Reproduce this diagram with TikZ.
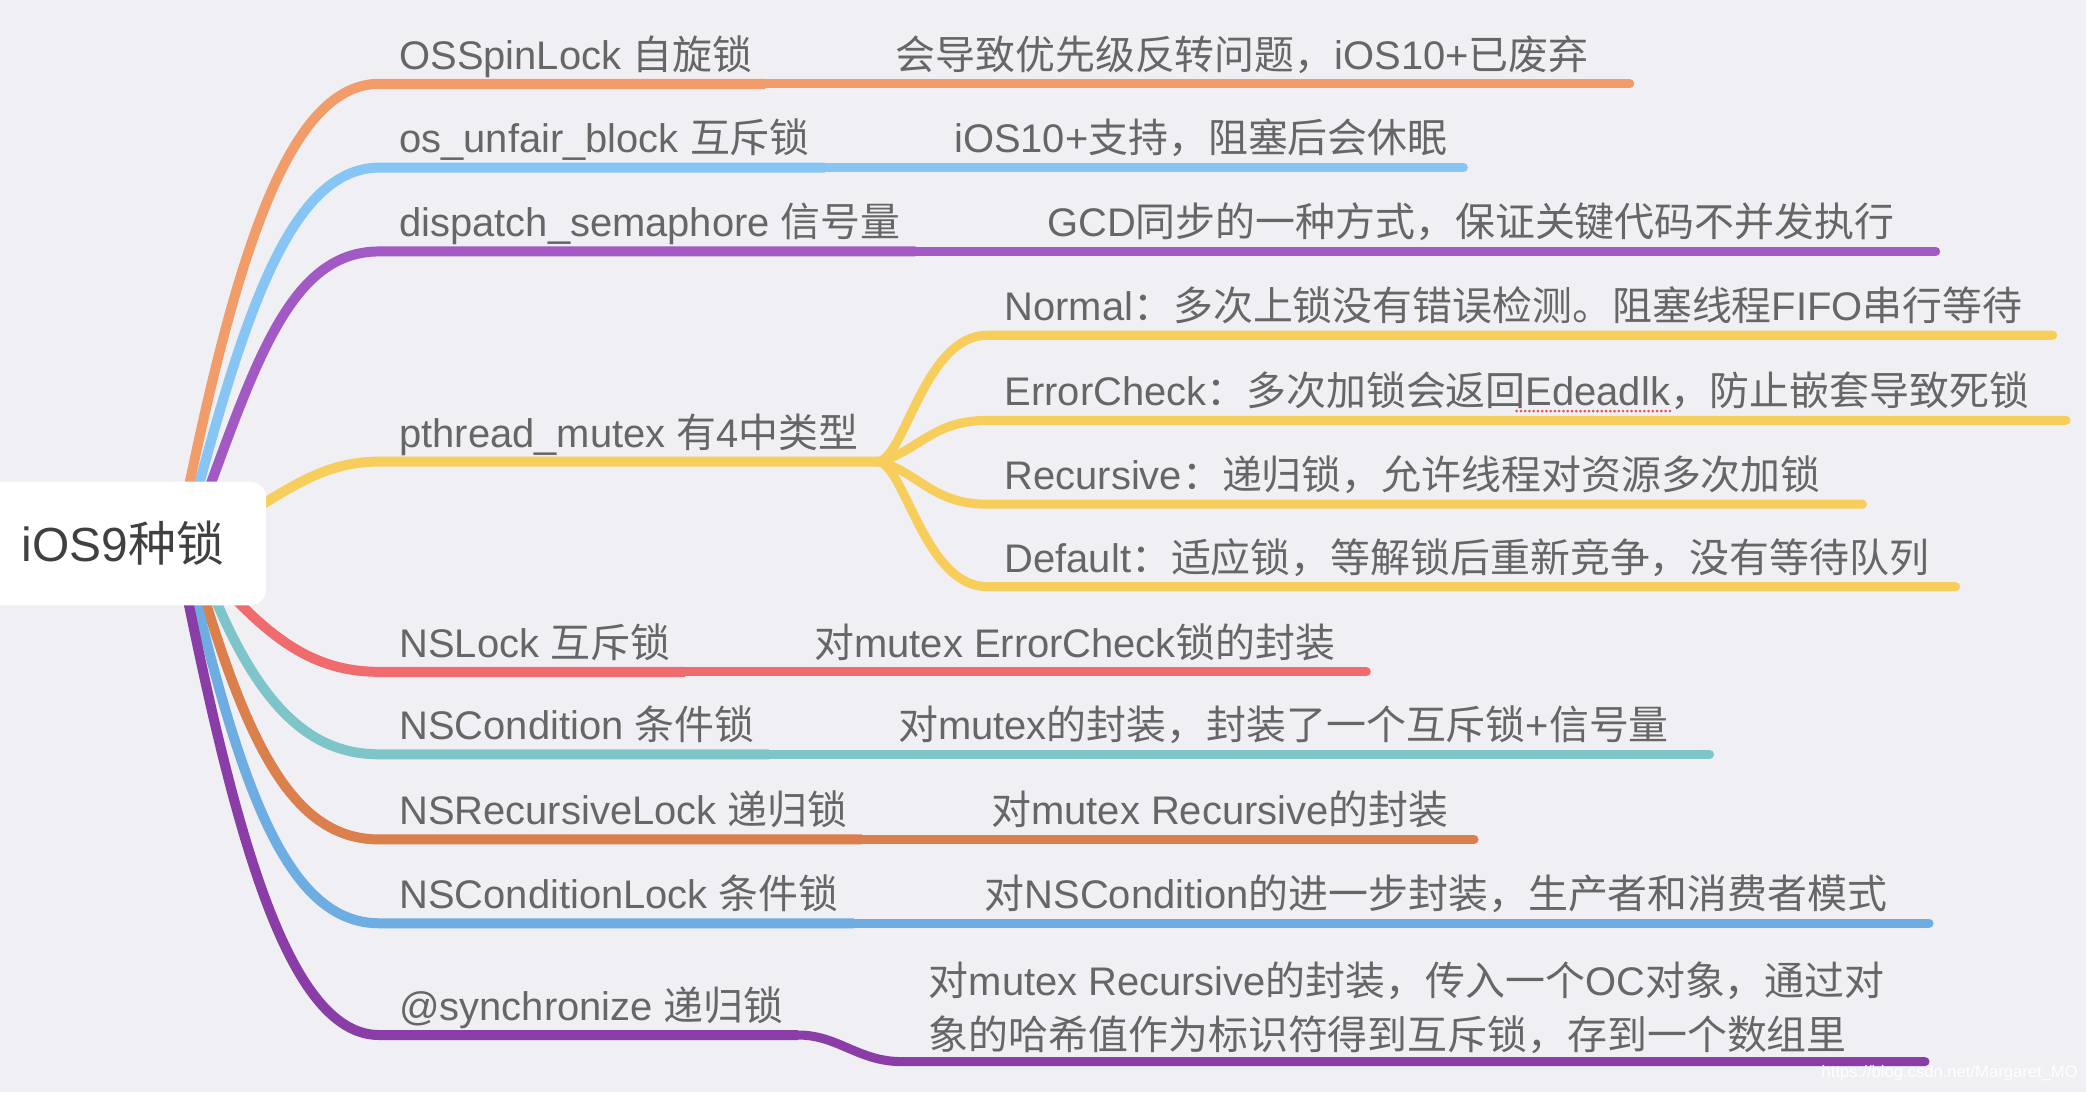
\documentclass[tikz,border=0pt]{standalone}
\usepackage{fontspec}
\setmainfont{Liberation Sans}
\newfontfamily\zhfont{Noto Sans CJK SC}
\newcommand\zh[1]{{\zhfont #1}}
\definecolor{bgc}{RGB}{239,239,244}
\definecolor{txt}{RGB}{102,102,102}
\definecolor{roottxt}{RGB}{64,64,64}
\definecolor{cA}{RGB}{242,157,105}
\definecolor{cB}{RGB}{135,197,245}
\definecolor{cC}{RGB}{162,89,196}
\definecolor{cD}{RGB}{247,206,91}
\definecolor{cE}{RGB}{239,107,110}
\definecolor{cF}{RGB}{126,197,201}
\definecolor{cG}{RGB}{219,128,77}
\definecolor{cH}{RGB}{109,173,226}
\definecolor{cI}{RGB}{138,61,166}
\definecolor{spell}{RGB}{232,80,80}
\begin{document}
\begin{tikzpicture}[x=1pt,y=-1pt,
  lbl/.style={anchor=base west, inner sep=0pt, text=txt, font=\fontsize{30}{41}\selectfont},
  branch/.style={line width=7.5pt, line cap=butt, line join=round},
  leaf/.style={line width=6.8pt, line cap=round, line join=round},
  rootbox/.style={fill=white, rounded corners=12pt, minimum width=215pt, minimum height=93pt, inner sep=0pt, text=roottxt, font=\fontsize{36}{40}\selectfont}]

\useasboundingbox (0,0) rectangle (1568,821);
\fill[bgc] (0,0) rectangle (1568,821);

% origins (inside the root box)
\coordinate (o1) at (135,400);
\coordinate (o2) at (140,400);
\coordinate (o3) at (145,400);
\coordinate (o4) at (170,395);
\coordinate (o5) at (150,420);
\coordinate (o6) at (150,420);
\coordinate (o7) at (145,420);
\coordinate (o8) at (140,420);
\coordinate (o9) at (135,420);

% branch 1
\coordinate (b1) at (285,63); \coordinate (s1) at (575,63); \coordinate (e1) at (1225,63);
\draw[branch,cA] (o1) .. controls (175,200) and (215,63) .. (b1) -- (s1);
\draw[leaf,cA] (s1) -- (e1);
% branch 2
\coordinate (b2) at (285,126); \coordinate (s2) at (620,126); \coordinate (e2) at (1100,126);
\draw[branch,cB] (o2) .. controls (180,250) and (215,126) .. (b2) -- (s2);
\draw[leaf,cB] (s2) -- (e2);
% branch 3
\coordinate (b3) at (285,189); \coordinate (s3) at (688,189); \coordinate (e3) at (1455,189);
\draw[branch,cC] (o3) .. controls (190,280) and (215,189) .. (b3) -- (s3);
\draw[leaf,cC] (s3) -- (e3);
% branch 4
\coordinate (b4) at (285,347); \coordinate (f4) at (660,347);
\draw[branch,cD] (o4) .. controls (215,370) and (240,347) .. (b4) -- (f4);
\coordinate (ga) at (742,252); \coordinate (ea) at (1543,252);
\coordinate (gb) at (742,316); \coordinate (eb) at (1553,316);
\coordinate (gc) at (742,379); \coordinate (ec) at (1400,379);
\coordinate (gd) at (742,441); \coordinate (ed) at (1470,441);
\draw[leaf,cD] (f4) .. controls (680,345) and (695,252) .. (ga) -- (ea);
\draw[leaf,cD] (f4) .. controls (690,340) and (700,316) .. (gb) -- (eb);
\draw[leaf,cD] (f4) .. controls (690,354) and (700,379) .. (gc) -- (ec);
\draw[leaf,cD] (f4) .. controls (680,349) and (695,441) .. (gd) -- (ed);
% branch 5
\coordinate (b5) at (285,505); \coordinate (s5) at (515,505); \coordinate (e5) at (1027,505);
\draw[branch,cE] (o5) .. controls (200,480) and (235,505) .. (b5) -- (s5);
\draw[leaf,cE] (s5) -- (e5);
% branch 6
\coordinate (b6) at (285,567); \coordinate (s6) at (578,567); \coordinate (e6) at (1285,567);
\draw[branch,cF] (o6) .. controls (190,530) and (232,567) .. (b6) -- (s6);
\draw[leaf,cF] (s6) -- (e6);
% branch 7
\coordinate (b7) at (285,631); \coordinate (s7) at (648,631); \coordinate (e7) at (1108,631);
\draw[branch,cG] (o7) .. controls (185,560) and (220,631) .. (b7) -- (s7);
\draw[leaf,cG] (s7) -- (e7);
% branch 8
\coordinate (b8) at (285,694); \coordinate (s8) at (642,694); \coordinate (e8) at (1450,694);
\draw[branch,cH] (o8) .. controls (180,590) and (215,694) .. (b8) -- (s8);
\draw[leaf,cH] (s8) -- (e8);
% branch 9
\coordinate (b9) at (285,778); \coordinate (s9) at (600,778); \coordinate (g9) at (678,798); \coordinate (e9) at (1447,798);
\draw[branch,cI] (o9) .. controls (175,620) and (215,778) .. (b9) -- (s9);
\draw[leaf,cI] (s9) .. controls (630,778) and (645,798) .. (g9) -- (e9);

% root
\node[rootbox] (root) at (92.5,408.5) {iOS9\zh{种锁}};

% labels
\node[lbl] (l1) at (300,52) {OSSpinLock \zh{自旋锁}};
\node[lbl] (d1) at (673,52) {\zh{会导致优先级反转问题，}iOS10+\zh{已废弃}};
\node[lbl] (l2) at (300,115) {os\_unfair\_block \zh{互斥锁}};
\node[lbl] (d2) at (717,115) {iOS10+\zh{支持，阻塞后会休眠}};
\node[lbl] (l3) at (300,178) {dispatch\_semaphore \zh{信号量}};
\node[lbl] (d3) at (787,178) {GCD\zh{同步的一种方式，保证关键代码不并发执行}};
\node[lbl] (l4) at (300,336) {pthread\_mutex \zh{有}4\zh{中类型}};
\node[lbl] (da) at (755,241) {Normal\zh{：多次上锁没有错误检测。阻塞线程}FIFO\zh{串行等待}};
\node[lbl] (db) at (755,305) {ErrorCheck\zh{：多次加锁会返回}Edeadlk\zh{，防止嵌套导致死锁}};
\node[lbl] (dc) at (755,368) {Recursive\zh{：递归锁，允许线程对资源多次加锁}};
\node[lbl] (dd) at (755,430) {Default\zh{：适应锁，等解锁后重新竞争，没有等待队列}};
\node[lbl] (l5) at (300,494) {NSLock \zh{互斥锁}};
\node[lbl] (d5) at (612,494) {\zh{对}mutex ErrorCheck\zh{锁的封装}};
\node[lbl] (l6) at (300,556) {NSCondition \zh{条件锁}};
\node[lbl] (d6) at (675,556) {\zh{对}mutex\zh{的封装，封装了一个互斥锁}+\zh{信号量}};
\node[lbl] (l7) at (300,620) {NSRecursiveLock \zh{递归锁}};
\node[lbl] (d7) at (745,620) {\zh{对}mutex Recursive\zh{的封装}};
\node[lbl] (l8) at (300,683) {NSConditionLock \zh{条件锁}};
\node[lbl] (d8) at (740,683) {\zh{对}NSCondition\zh{的进一步封装，生产者和消费者模式}};
\node[lbl] (l9) at (300,767) {@synchronize \zh{递归锁}};
\node[lbl] (d9a) at (698,748) {\zh{对}mutex Recursive\zh{的封装，传入一个}OC\zh{对象，通过对}};
\node[lbl] (d9b) at (698,789) {\zh{象的哈希值作为标识符得到互斥锁，存到一个数组里}};

% spell-check underline
\draw[spell, line width=2.2pt, line cap=round, dash pattern=on 0pt off 3.2pt] (1140,309) -- (1256,309);

% watermark
\node[anchor=east, inner sep=0pt, text=white, font=\fontsize{12.5}{12.5}\selectfont] (wm) at (1562,806.5) {https://blog.csdn.net/Margaret\_MO};
\end{tikzpicture}
\end{document}
